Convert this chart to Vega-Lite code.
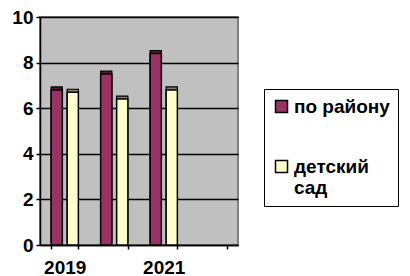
{
  "$schema": "https://vega.github.io/schema/vega-lite/v6.json",
  "width": 198,
  "height": 228,
  "autosize": "none",
  "padding": {"left": 40, "top": 17, "right": 172, "bottom": 31},
  "background": "white",
  "config": {
    "font": "Liberation Sans",
    "view": {"fill": "#C0C0C0", "stroke": "#808080", "strokeWidth": 2}
  },
  "data": {
    "values": [
      {"year": "2019", "series": "по району", "value": 6.8},
      {"year": "2019", "series": "детский сад", "value": 6.7},
      {"year": "2020", "series": "по району", "value": 7.5},
      {"year": "2020", "series": "детский сад", "value": 6.4},
      {"year": "2021", "series": "по району", "value": 8.4},
      {"year": "2021", "series": "детский сад", "value": 6.8}
    ]
  },
  "encoding": {
    "x": {
      "field": "year",
      "type": "nominal",
      "scale": {"domain": ["2019", "2020", "2021", "2022"], "paddingInner": 0.45, "paddingOuter": 0.225},
      "axis": {
        "title": null,
        "labelAngle": 0,
        "labelExpr": "datum.value == '2019' || datum.value == '2021' ? datum.value : ''",
        "labelFontSize": 19,
        "labelFontWeight": "bold",
        "labelColor": "black",
        "labelPadding": 9,
        "tickBand": "extent",
        "tickColor": "black",
        "tickWidth": 1.5,
        "tickSize": 4,
        "domainColor": "black",
        "domainWidth": 1.5
      }
    },
    "xOffset": {
      "field": "series",
      "type": "nominal",
      "scale": {"domain": ["по району", "детский сад"], "paddingInner": 0.3, "paddingOuter": 0}
    },
    "y": {
      "field": "value",
      "type": "quantitative",
      "scale": {"domain": [0, 10], "nice": false},
      "axis": {
        "title": null,
        "values": [0, 2, 4, 6, 8, 10],
        "grid": true,
        "gridColor": "black",
        "gridWidth": 1.5,
        "labelFontSize": 19,
        "labelFontWeight": "bold",
        "labelColor": "black",
        "labelPadding": 3,
        "tickColor": "black",
        "tickWidth": 1.5,
        "tickSize": 4,
        "domainColor": "black",
        "domainWidth": 1.5
      }
    }
  },
  "layer": [
    {
      "mark": {"type": "bar", "stroke": "black", "strokeWidth": 1.2, "xOffset": 3, "yOffset": -3},
      "encoding": {
        "color": {
          "field": "series",
          "type": "nominal",
          "scale": {"domain": ["по району", "детский сад"], "range": ["#4D1A33", "#80806A"]},
          "legend": null
        }
      }
    },
    {
      "mark": {"type": "bar", "stroke": "black", "strokeWidth": 1.5},
      "encoding": {
        "color": {
          "field": "series",
          "type": "nominal",
          "scale": {"domain": ["по району", "детский сад"], "range": ["#993366", "#FFFFCC"]},
          "legend": {
            "title": null,
            "orient": "none",
            "legendX": 224,
            "legendY": 72,
            "fillColor": "white",
            "strokeColor": "black",
            "padding": 8,
            "symbolType": "square",
            "symbolSize": 144,
            "symbolStrokeColor": "black",
            "symbolStrokeWidth": 1.5,
            "labelFontSize": 19,
            "labelFontWeight": "bold",
            "labelColor": "black",
            "labelOffset": 3,
            "labelLimit": 200,
            "rowPadding": 40,
            "labelExpr": "datum.label == 'детский сад' ? ['детский', 'сад'] : datum.label"
          }
        }
      }
    }
  ],
  "resolve": {"scale": {"color": "independent"}}
}
